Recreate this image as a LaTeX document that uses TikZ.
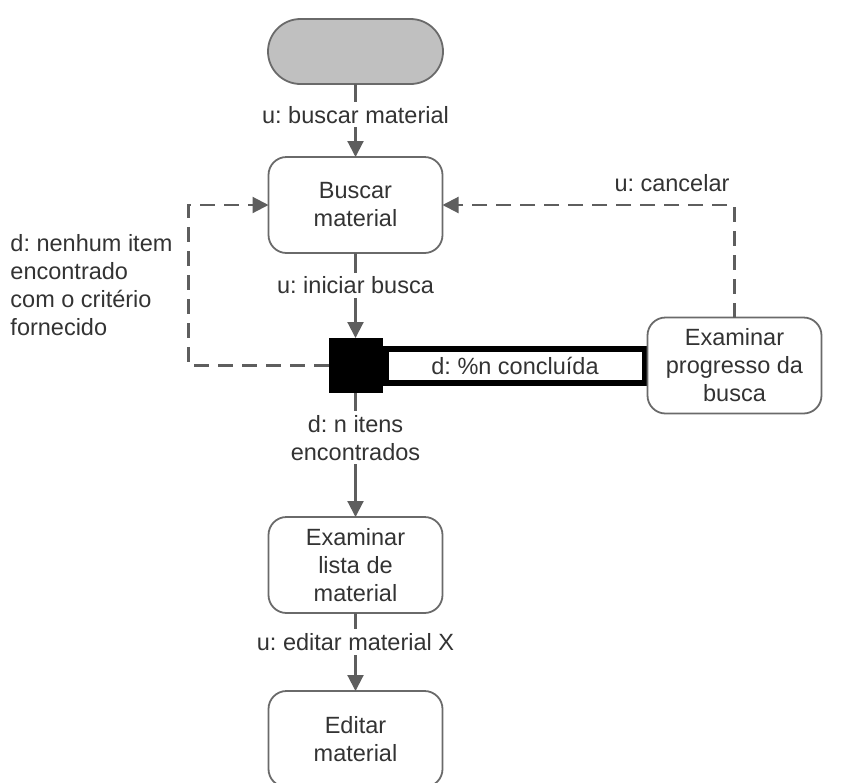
\documentclass[tikz,border=0pt]{standalone}
\usepackage{fontspec}
\setmainfont{Liberation Sans}
\usetikzlibrary{arrows.meta, positioning}
\frenchspacing

\definecolor{linegray}{HTML}{5E5E5E}
\definecolor{boxgray}{HTML}{6A6A6A}
\definecolor{txtgray}{HTML}{333333}
\definecolor{startgray}{HTML}{C0C0C0}

\begin{document}
\begin{tikzpicture}[x=1pt, y=-1pt, ->, >={Triangle[length=16pt,width=16pt]},
                    line width=2.1pt, color=linegray,
                    every node/.style={font=\fontsize{23.5}{28}\selectfont, text=txtgray}]

  \tikzstyle{box}   = [draw=boxgray, rectangle, rounded corners=18pt, minimum width=174pt,
                       minimum height=96pt, align=center, inner sep=0pt, outer sep=0pt, line width=1.8pt]
  \tikzstyle{begin} = [box, fill=startgray, rounded corners=32.5pt, minimum width=175pt, minimum height=65pt]
  \tikzstyle{fork}  = [fill=black, minimum width=54pt, minimum height=55pt, inner sep=0pt, outer sep=0pt]
  \tikzstyle{bar}   = [draw=black, fill=white, line width=6pt, minimum width=259pt, minimum height=34pt, inner sep=0pt]
  \tikzstyle{lbl}   = [fill=white, inner sep=4pt, align=center]
  \tikzstyle{note}  = [inner sep=0pt, align=left]
  \tikzstyle{dashline} = [dash pattern=on 15pt off 9pt]

  \useasboundingbox (0,0) rectangle (845,782);

  \node[begin] (start)     at (355.5,51.5)         {};
  \node[box]   (buscar)    [below=73pt of start]   {Buscar\\material};
  \node[fork]  (fork)      [below=85pt of buscar]  {};
  \node[box]   (exlista)   [below=124pt of fork]   {Examinar\\lista de\\material};
  \node[box]   (editar)    [below=78pt of exlista] {Editar\\material};
  \node[bar]   (bar)       [right=0pt of fork]     {d: \%n concluída};
  \node[box]   (progresso) [right=0pt of bar]      {Examinar\\progresso da\\busca};

  \path (start)   edge node[lbl, pos=0.42] {u: buscar material} (buscar)
        (buscar)  edge node[lbl, pos=0.38] {u: iniciar busca} (fork)
        (fork)    edge node[lbl, pos=0.36] {d: n itens\\encontrados} (exlista)
        (exlista) edge node[lbl, pos=0.37] {u: editar material X} (editar);

  \draw[dashline] (progresso) |- node[note, pos=0.5, anchor=south east, xshift=-4pt, yshift=12pt] {u: cancelar} (buscar);
  \draw[dashline] (fork.west) -- ++(-140,0) |- node[note, pos=0.25, anchor=east, xshift=-15pt]
        {d: nenhum item\\encontrado\\com o critério\\fornecido} (buscar);

\end{tikzpicture}
\end{document}
